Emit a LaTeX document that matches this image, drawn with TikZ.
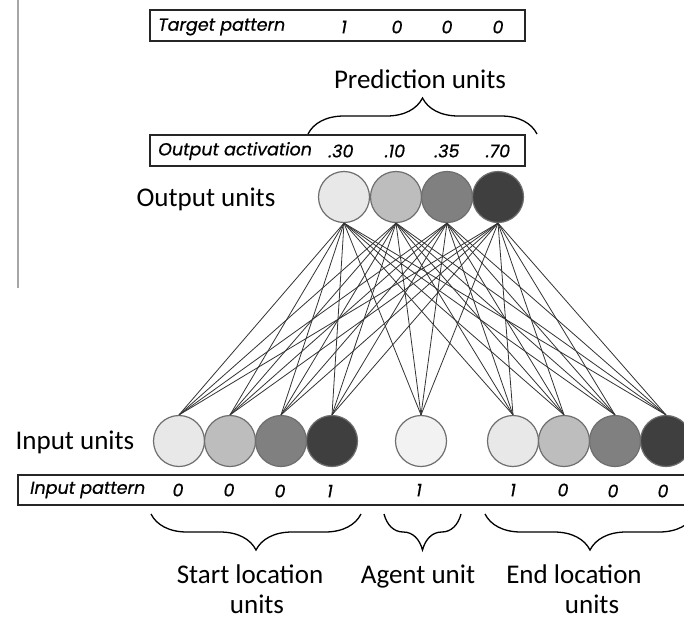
\documentclass[tikz,border=0pt]{standalone}
\usepackage{fontspec}
\setmainfont{Carlito}
\newfontfamily\boxfont{Poppins}[FakeBold=0.6]
\usetikzlibrary{decorations.pathreplacing}
\definecolor{uA}{HTML}{E8E8E8}
\definecolor{uB}{HTML}{BDBDBD}
\definecolor{uC}{HTML}{808080}
\definecolor{uD}{HTML}{3F3F3F}
\definecolor{uE}{HTML}{F2F2F2}
\definecolor{rim}{HTML}{6E6E6E}
\begin{document}
\begin{tikzpicture}[x=1pt,y=-1pt,
  unit/.style={circle,draw=rim,line width=1.2pt,minimum size=51pt,inner sep=0pt},
  patbox/.style={draw=black!85,line width=1.4pt},
  boxtxt/.style={font=\boxfont\itshape\fontsize{17.5}{19}\selectfont,anchor=center,inner sep=0pt},
  lbl/.style={font=\fontsize{27}{30}\selectfont,inner sep=0pt,anchor=base},
  link/.style={black!80,line width=0.8pt},
  curly/.style={decorate,decoration={brace,amplitude=36pt},line width=1.3pt}]
\useasboundingbox (0,0) rectangle (684,625);
\fill[white] (0,0) rectangle (684,625);

% left margin rule
\draw[gray!70,line width=1.5pt] (18,0) -- (18,288);

% target pattern
\draw[patbox] (150,10) rectangle (525,41);
\node[boxtxt,anchor=west] (tp) at (158,27) {Target pattern};
\node[boxtxt] (t1) at (344,27) {1};
\node[boxtxt] (t2) at (397,27) {0};
\node[boxtxt] (t3) at (447,27) {0};
\node[boxtxt] (t4) at (498,27) {0};

% prediction brace
\coordinate (pbl) at (308,134);
\coordinate (pbr) at (537,134);
\draw[curly] (pbl) -- (pbr);
\node[lbl] (pred) at (420,88) {Prediction units};

% output activation
\draw[patbox] (150,135) rectangle (525,166);
\node[boxtxt,anchor=west] (oa) at (158,151) {Output activation};
\node[boxtxt] (a1) at (341,151) {.30};
\node[boxtxt] (a2) at (395,151) {.10};
\node[boxtxt] (a3) at (447,151) {.35};
\node[boxtxt] (a4) at (498,151) {.70};

% output units
\node[lbl] (outlbl) at (206,206) {Output units};
\node[unit,fill=uA] (o1) at (344,197) {};
\node[unit,fill=uB] (o2) at (396,197) {};
\node[unit,fill=uC] (o3) at (447,197) {};
\node[unit,fill=uD] (o4) at (498,197) {};

% input units
\node[lbl] (inlbl) at (75,449) {Input units};
\node[unit,fill=uA] (i1) at (179,441) {};
\node[unit,fill=uB] (i2) at (230,441) {};
\node[unit,fill=uC] (i3) at (281,441) {};
\node[unit,fill=uD] (i4) at (332,441) {};
\node[unit,fill=uE] (i5) at (421,441) {};
\node[unit,fill=uA] (i6) at (513,441) {};
\node[unit,fill=uB] (i7) at (564,441) {};
\node[unit,fill=uC] (i8) at (615,441) {};
\node[unit,fill=uD] (i9) at (666,441) {};

% full connectivity
\foreach \i in {1,...,9}
  \foreach \o in {1,...,4}
    \draw[link] (i\i.north) -- (o\o.south);

% input pattern
\draw[patbox] (690,475) -- (18,475) -- (18,505) -- (690,505);
\node[boxtxt,anchor=west] (ip) at (30,490) {Input pattern};
\node[boxtxt] (p1) at (178,490) {0};
\node[boxtxt] (p2) at (229,490) {0};
\node[boxtxt] (p3) at (280,491) {0};
\node[boxtxt] (p4) at (330,491) {1};
\node[boxtxt] (p5) at (419,490) {1};
\node[boxtxt] (p6) at (513,490) {1};
\node[boxtxt] (p7) at (563,490) {0};
\node[boxtxt] (p8) at (613,491) {0};
\node[boxtxt] (p9) at (663,491) {0};

% group braces
\coordinate (sbl) at (151,514);
\coordinate (sbr) at (361,514);
\coordinate (abl) at (384,514);
\coordinate (abr) at (461,514);
\coordinate (ebl) at (485,514);
\coordinate (ebr) at (695,514);
\draw[curly] (sbr) -- (sbl);
\draw[curly] (abr) -- (abl);
\draw[curly] (ebr) -- (ebl);

\node[lbl] (start1) at (250,583) {Start location};
\node[lbl] (start2) at (257,613) {units};
\node[lbl] (agent) at (418,583) {Agent unit};
\node[lbl] (end1) at (574,583) {End location};
\node[lbl] (end2) at (592,613) {units};
\end{tikzpicture}
\end{document}
